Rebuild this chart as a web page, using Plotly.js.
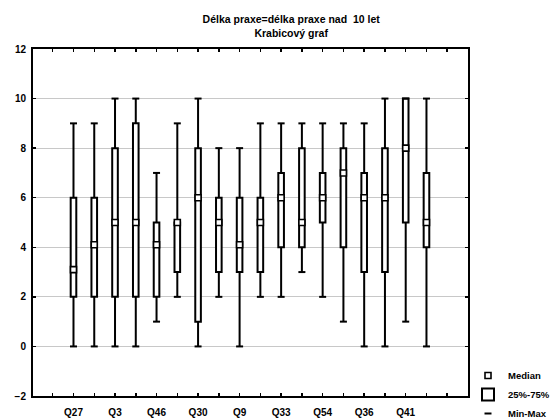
<!DOCTYPE html>
<html>
<head>
<meta charset="utf-8">
<script src="https://cdn.plot.ly/plotly-3.0.1.min.js"></script>
<style>html,body{margin:0;padding:0;background:#fff;}#chart{width:560px;height:420px;}</style>
</head>
<body>
<div id="chart"></div>
<script>
// Box positions (slots 1..18) and summary statistics
const positions = [1,2,3,4,5,6,7,8,9,10,11,12,13,14,15,16,17,18];
const q1Vals    = [2,2,2,2,2,3,1,3,3,3,4,4,5,4,3,3,5,4];
const medians   = [3.1,4.1,5,5,4.1,5,6,5,4.1,5,6,5,6,7,6,6,8,5];
const q3Vals    = [6,6,8,9,5,5,8,6,6,6,7,8,7,8,7,8,10,7];
const minVals   = [0,0,0,0,1,2,0,2,0,2,2,3,2,1,0,0,1,0];
const maxVals   = [9,9,10,10,7,9,10,8,8,9,9,9,9,9,9,10,10,10];
const xLabels   = ['Q27','Q3','Q46','Q30','Q9','Q33','Q54','Q36','Q41'];
const xLabelPos = [1,3,5,7,9,11,13,15,17];
const yTicks    = [-2,0,2,4,6,8,10,12];

const FONT = '"Liberation Sans", Arial, sans-serif';

// tick marks every slot 0..19, labels only at labelled slots
const tickVals = [];
const tickText = [];
for (let i = 0; i <= 19; i++) {
  tickVals.push(i);
  const k = xLabelPos.indexOf(i);
  tickText.push(k >= 0 ? xLabels[k] : '');
}

const capX = positions.concat(positions);
const capY = maxVals.concat(minVals);

const traces = [
  {
    type: 'scatter', mode: 'markers', name: 'Median',
    x: positions, y: medians,
    marker: {symbol: 'square', size: 6, color: '#ffffff', line: {color: '#000000', width: 1.6}},
    hoverinfo: 'skip'
  },
  {
    type: 'box', name: '25%-75%',
    x: positions,
    q1: q1Vals, median: medians, q3: q3Vals,
    lowerfence: minVals, upperfence: maxVals,
    width: 0.27, whiskerwidth: 0,
    fillcolor: '#ffffff',
    line: {color: '#000000', width: 2},
    boxpoints: false
  },
  {
    type: 'scatter', mode: 'markers', name: 'Min-Max',
    x: capX, y: capY,
    marker: {symbol: 'line-ew-open', size: 5, color: '#000000', line: {color: '#000000', width: 2}},
    hoverinfo: 'skip'
  }
];

const layout = {
  width: 560, height: 420,
  paper_bgcolor: '#ffffff', plot_bgcolor: '#ffffff',
  margin: {l: 33, r: 74, t: 49, b: 24, pad: 0},
  font: {family: FONT, size: 9, color: '#000000', weight: 'bold'},
  title: {
    text: 'Délka praxe=délka praxe nad  10 let<br>Krabicový graf',
    font: {family: FONT, size: 10.5, color: '#000000', weight: 'bold'},
    x: 0.52, xref: 'container', xanchor: 'center',
    y: 1 - 23/420, yref: 'container', yanchor: 'middle'
  },
  showlegend: true,
  legend: {
    x: 468/560, xref: 'container', xanchor: 'left',
    y: 1 - 361/420, yref: 'container', yanchor: 'top',
    font: {family: FONT, size: 9.5, color: '#000000', weight: 'bold'},
    bgcolor: 'rgba(0,0,0,0)', borderwidth: 0,
    itemwidth: 30, tracegroupgap: 0
  },
  xaxis: {
    range: [-0.95, 20.0],
    tickmode: 'array', tickvals: tickVals, ticktext: tickText,
    ticks: 'inside', ticklen: 3, tickwidth: 1.5, tickcolor: '#000000',
    showline: true, linecolor: '#000000', linewidth: 2, mirror: 'ticks',
    showgrid: false, zeroline: false,
    tickfont: {family: FONT, size: 10, color: '#000000', weight: 'bold'},
    ticklabelstandoff: 6
  },
  yaxis: {
    range: [-2, 12],
    tickmode: 'array', tickvals: yTicks,
    ticks: 'inside', ticklen: 3, tickwidth: 1.5, tickcolor: '#000000',
    showline: true, linecolor: '#000000', linewidth: 2, mirror: 'ticks',
    showgrid: true, gridcolor: '#c8c8c8', gridwidth: 1,
    zeroline: false,
    tickfont: {family: FONT, size: 10, color: '#000000', weight: 'bold'},
    ticklabelstandoff: 3
  }
};

Plotly.newPlot('chart', traces, layout, {displayModeBar: false, staticPlot: true});
</script>
</body>
</html>
